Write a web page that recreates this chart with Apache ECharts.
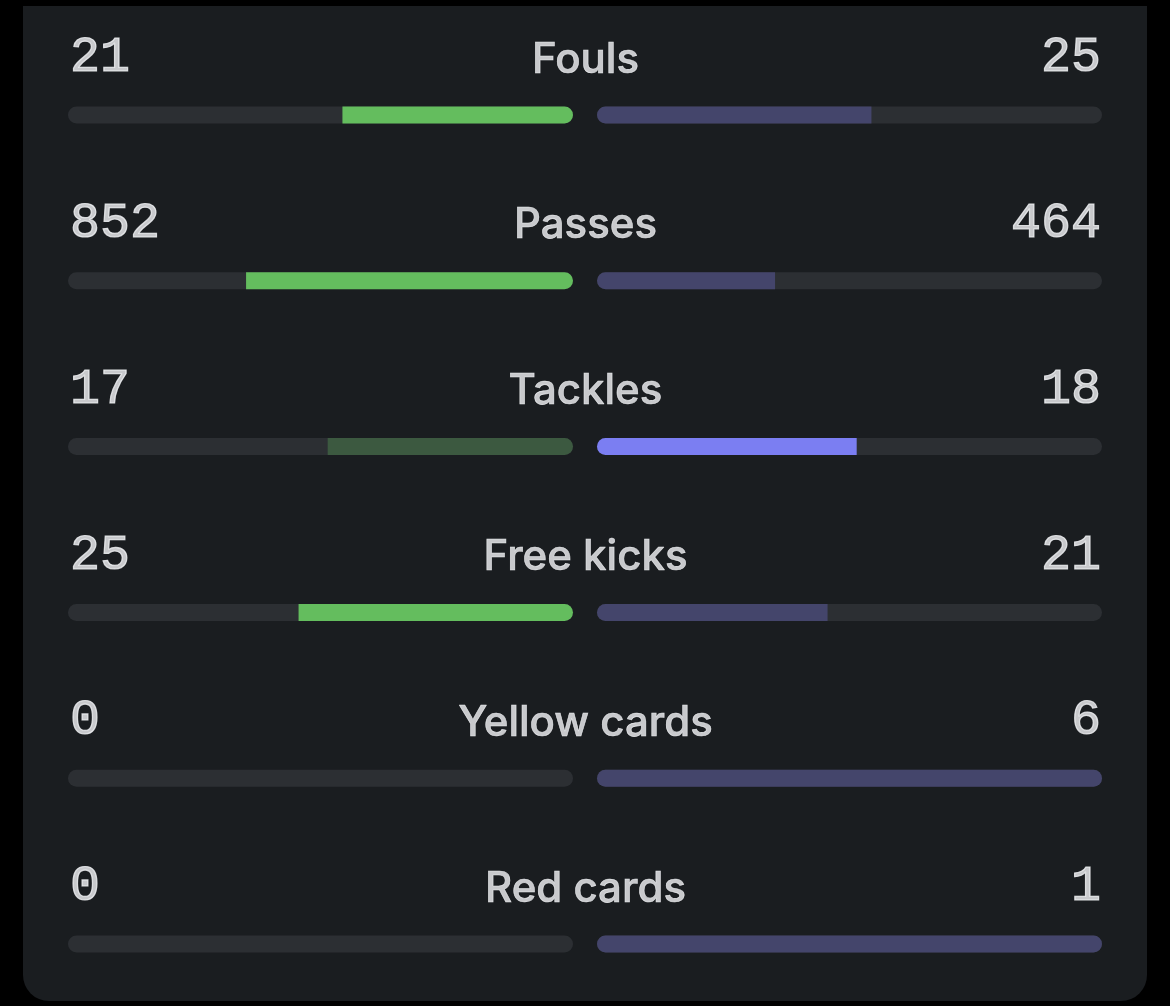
<!DOCTYPE html>
<html>
<head>
<meta charset="utf-8">
<script src="https://cdn.jsdelivr.net/npm/echarts@6/dist/echarts.min.js"></script>
<style>
  html, body { margin: 0; padding: 0; background: #000; }
  #card {
    position: absolute; left: 23px; top: 6px; width: 1124px; height: 995px;
    background: #1a1d20; border-radius: 0 0 26px 26px;
  }
  #chart { position: absolute; left: 0; top: 0; width: 1170px; height: 1006px; }
</style>
</head>
<body>
<div id="card"></div>
<div id="chart"></div>
<script>
// match stats
const categories = ['Fouls', 'Passes', 'Tackles', 'Free kicks', 'Yellow cards', 'Red cards'];
const homeValues = [21, 852, 17, 25, 0, 0];
const awayValues = [25, 464, 18, 21, 6, 1];
// which side gets the bright bar
const leader = ['home', 'home', 'away', 'home', 'home', 'home'];

const colors = {
  homeOn: '#64bd5e', homeOff: '#3c5940',
  awayOn: '#7b7ef2', awayOff: '#44456b',
  track: '#2c2f33', text: '#f4f5f7'
};

let myChart = echarts.init(document.getElementById('chart'));

const homeShare = homeValues.map((v, i) => v / (v + awayValues[i]));
const awayShare = awayValues.map((v, i) => v / (homeValues[i] + v));

const R = 8.5;
const homeData = homeShare.map((s, i) => ({
  value: s,
  itemStyle: {
    color: leader[i] === 'home' ? colors.homeOn : colors.homeOff,
    borderRadius: s >= 1 ? R : [0, R, R, 0]
  }
}));
const awayData = awayShare.map((s, i) => ({
  value: s,
  itemStyle: {
    color: leader[i] === 'away' ? colors.awayOn : colors.awayOff,
    borderRadius: s >= 1 ? R : [R, 0, 0, R]
  }
}));

// first row centre at y=115, last at y=944
const gridTop = 115, gridHeight = 829;
const catAxis = (idx) => ({
  type: 'category', gridIndex: idx, data: categories, inverse: true, boundaryGap: false,
  axisLine: { show: false }, axisTick: { show: false }, axisLabel: { show: false },
  splitLine: { show: false }
});
const valAxis = (idx, inv) => ({
  type: 'value', gridIndex: idx, min: 0, max: 1, inverse: inv,
  axisLine: { show: false }, axisTick: { show: false },
  axisLabel: { show: false }, splitLine: { show: false }
});

const textSeries = (x, align, texts, isNum) => ({
  type: 'scatter', xAxisIndex: 2, yAxisIndex: 2, symbolSize: 0, silent: true, clip: false,
  data: categories.map((c, i) => ({ value: [x, c], name: String(texts[i]) })),
  label: {
    show: true, position: 'inside', align: align, verticalAlign: 'middle',
    offset: isNum ? [0, -57] : [0, -55], formatter: '{b}', color: colors.text,
    fontFamily: isNum ? 'Liberation Mono' : 'Inter',
    fontWeight: isNum ? 'normal' : 500,
    fontSize: isNum ? 50 : 42,
    textBorderColor: colors.text,
    textBorderWidth: isNum ? 1.2 : 0.6
  }
});

var option = {
  animation: false,
  grid: [
    { left: 68, width: 505, top: gridTop, height: gridHeight },
    { left: 597, width: 505, top: gridTop, height: gridHeight },
    { left: 70, width: 1031, top: gridTop, height: gridHeight }
  ],
  xAxis: [valAxis(0, true), valAxis(1, false), valAxis(2, false)],
  yAxis: [catAxis(0), catAxis(1), catAxis(2)],
  series: [
    {
      type: 'bar', xAxisIndex: 0, yAxisIndex: 0, barWidth: 17, data: homeData, clip: false,
      showBackground: true, backgroundStyle: { color: colors.track, borderRadius: R }
    },
    {
      type: 'bar', xAxisIndex: 1, yAxisIndex: 1, barWidth: 17, data: awayData, clip: false,
      showBackground: true, backgroundStyle: { color: colors.track, borderRadius: R }
    },
    textSeries(0, 'left', homeValues, true),
    textSeries(0.5, 'center', categories, false),
    textSeries(1, 'right', awayValues, true)
  ]
};

myChart.setOption(option);
</script>
</body>
</html>
